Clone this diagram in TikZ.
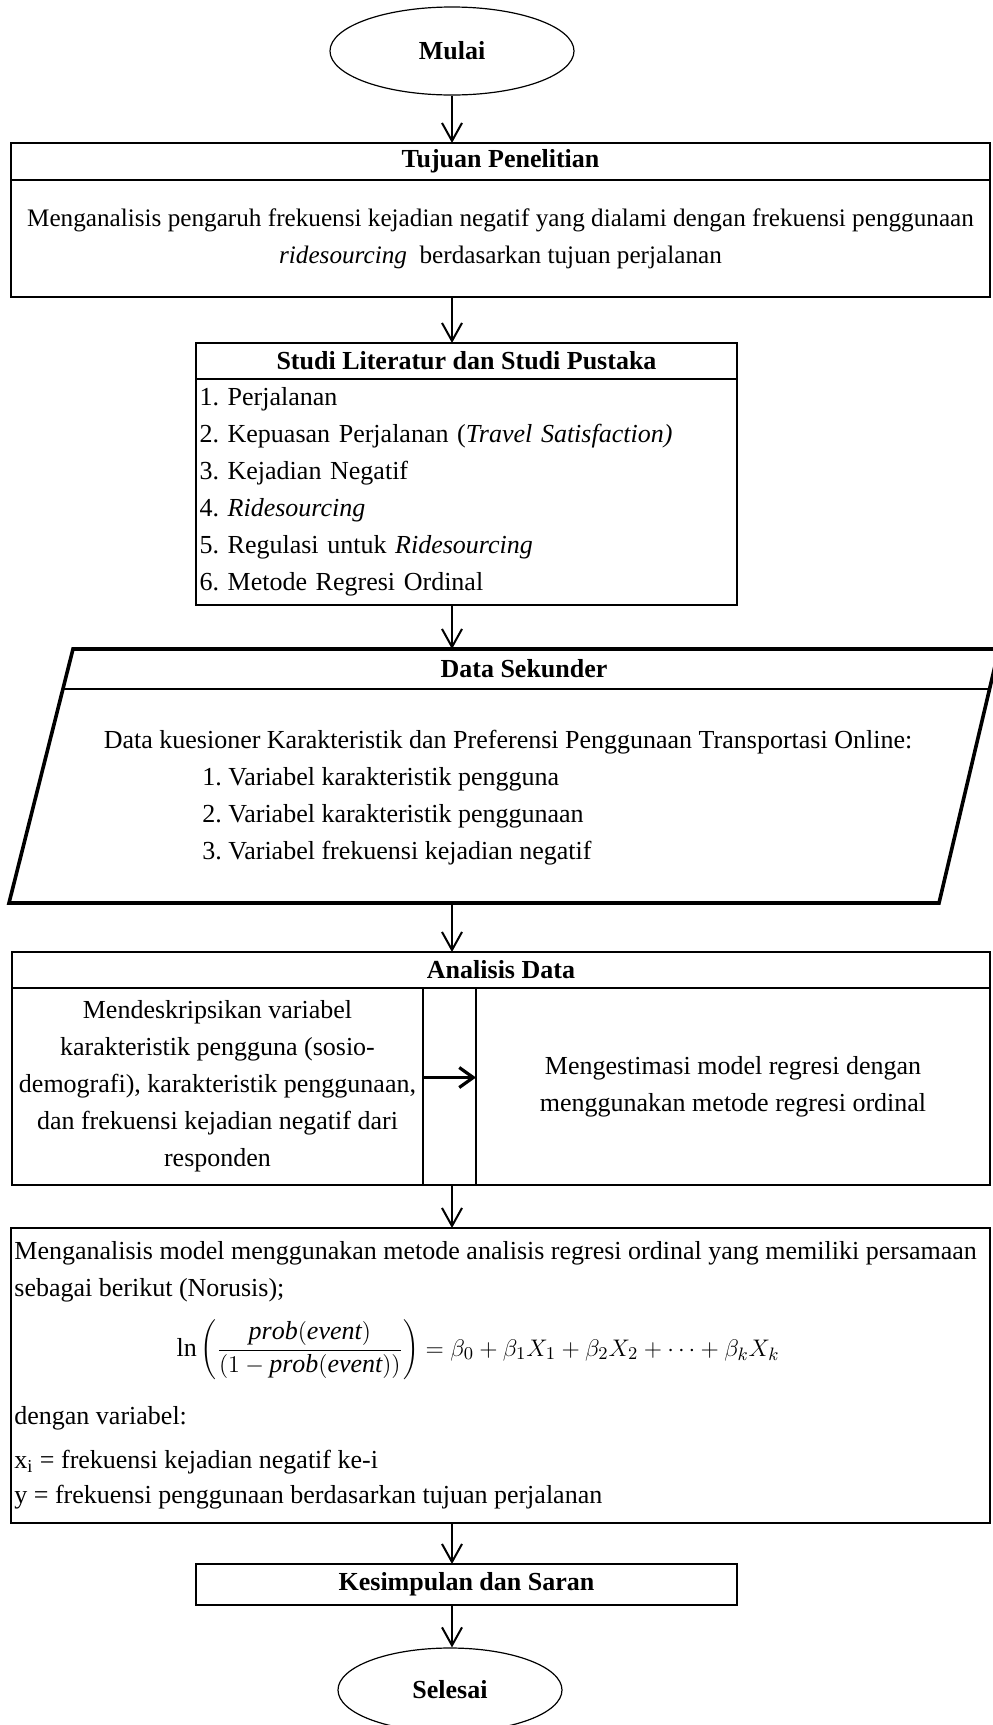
\documentclass[tikz,border=0pt]{standalone}
\usepackage{fontspec}
\setmainfont{Liberation Serif}
\usepackage{tikz}
\usetikzlibrary{arrows.meta,positioning,shapes.geometric}

\begin{document}
\fontsize{13}{18.5}\selectfont\frenchspacing
\begin{tikzpicture}[
    x=0.5pt, y=-0.5pt,
    box/.style={draw, line width=1.1pt, inner sep=0pt, outer sep=0pt, align=center},
    terminal/.style={draw, ellipse, line width=0.6pt, inner sep=0pt, font=\bfseries},
    datashape/.style={draw, line width=1.8pt, line join=miter},
    arrow/.style={-{Straight Barb[length=9pt,width=10pt]}, line width=1pt},
    bigarrow/.style={-{Straight Barb[length=7pt,width=10pt]}, line width=1.6pt}
  ]
    \useasboundingbox (0,0) rectangle (992,1725);

    \node[terminal, minimum width=122pt, minimum height=44pt] (mulai) at (452,51) {Mulai};

    % tujuan penelitian
    \node[box, minimum width=489.5pt, minimum height=18.5pt, font=\bfseries] (tujuanhead) at (500.5,161.5) {Tujuan Penelitian};
    \node[box, minimum width=489.5pt, minimum height=58.5pt, below=0pt of tujuanhead, font=\fontsize{12.6}{18.5}\selectfont] (tujuanbody)
      {Menganalisis pengaruh frekuensi kejadian negatif yang dialami dengan frekuensi penggunaan\\ \textit{ridesourcing}~ berdasarkan tujuan perjalanan};

    % studi literatur
    \node[box, minimum width=270.5pt, minimum height=18pt, font=\bfseries] (studihead) at (466.5,361) {Studi Literatur dan Studi Pustaka};
    \node[box, text width=267pt, inner xsep=1.75pt, minimum height=113pt, align=left, below=0pt of studihead] (studibody)
      {1. Perjalanan\\ 2. Kepuasan Perjalanan (\textit{Travel Satisfaction)}\\ 3. Kejadian Negatif\\ 4. \textit{Ridesourcing}\\ 5. Regulasi untuk \textit{Ridesourcing}\\ 6. Metode Regresi Ordinal};

    % data sekunder
    \node[minimum width=465pt, minimum height=127pt, inner sep=0pt, outer sep=0pt] (datasec) at (504,776) {};
    \draw[datashape] (73,649) -- (999,649) -- (939,903) -- (9,903) -- cycle;
    \draw[line width=1pt] (63,689) -- (990,689);
    \node[font=\bfseries] (datahead) at (524,669) {Data Sekunder};
    \node (datatext) at (508,742) {Data kuesioner Karakteristik dan Preferensi Penggunaan Transportasi Online:};
    \node[anchor=west, align=left, inner sep=0pt] (dataitems) at (202,816)
      {1. Variabel karakteristik pengguna\\ 2. Variabel karakteristik penggunaan\\ 3. Variabel frekuensi kejadian negatif};

    % analisis data
    \node[box, minimum width=489pt, minimum height=18pt, font=\bfseries] (anahead) at (501,970) {Analisis Data};
    \node[box, minimum width=205.5pt, minimum height=98.5pt] (analeft) at (217.5,1086.5)
      {Mendeskripsikan variabel\\ karakteristik pengguna (sosio-\\ demografi), karakteristik penggunaan,\\ dan frekuensi kejadian negatif dari\\ responden};
    \node[box, minimum width=26.5pt, minimum height=98.5pt, right=0pt of analeft] (anamid) {};
    \node[box, minimum width=257pt, minimum height=98.5pt, right=0pt of anamid] (anaright)
      {Mengestimasi model regresi dengan\\ menggunakan metode regresi ordinal};

    % regresi ordinal
    \node[box, minimum width=489.5pt, minimum height=147.5pt] (regbox) at (500.5,1375.5) {};
    \node[anchor=west, inner sep=0pt] (reg1) at (14,1253) {Menganalisis model menggunakan metode analisis regresi ordinal yang memiliki persamaan};
    \node[anchor=west, inner sep=0pt] (reg2) at (14,1290) {sebagai berikut (Norusis);};
    \node (regeq) at (478,1350)
      {$\displaystyle \ln\left(\frac{\mathit{prob}(\mathit{event})}{(1-\mathit{prob}(\mathit{event}))}\right)=\beta_0+\beta_1X_1+\beta_2X_2+\cdots+\beta_kX_k$};
    \node[anchor=west, inner sep=0pt] (reg3) at (14,1418) {dengan variabel:};
    \node[anchor=west, inner sep=0pt] (reg4) at (14,1462) {x\textsubscript{i} = frekuensi kejadian negatif ke-i};
    \node[anchor=west, inner sep=0pt] (reg5) at (14,1497) {y = frekuensi penggunaan berdasarkan tujuan perjalanan};

    \node[box, minimum width=270.5pt, minimum height=20.5pt, font=\bfseries] (kesimpulan) at (466.5,1584.5) {Kesimpulan dan Saran};
    \node[terminal, minimum width=112pt, minimum height=42pt] (selesai) at (450,1690) {Selesai};

    \draw[arrow] (mulai) -- (mulai |- tujuanhead.north);
    \draw[arrow] (tujuanbody.south -| mulai) -- (studihead.north -| mulai);
    \draw[arrow] (studibody.south -| mulai) -- (datasec.north -| mulai);
    \draw[arrow] (datasec.south -| mulai) -- (anahead.north -| mulai);
    \draw[arrow] (anamid.south -| mulai) -- (regbox.north -| mulai);
    \draw[arrow] (regbox.south -| mulai) -- (kesimpulan.north -| mulai);
    \draw[arrow] (kesimpulan.south -| mulai) -- (selesai.north -| mulai);
    \draw[bigarrow] ([yshift=4.5pt]analeft.east) -- ([yshift=4.5pt]anaright.west);
  \end{tikzpicture}
\end{document}
